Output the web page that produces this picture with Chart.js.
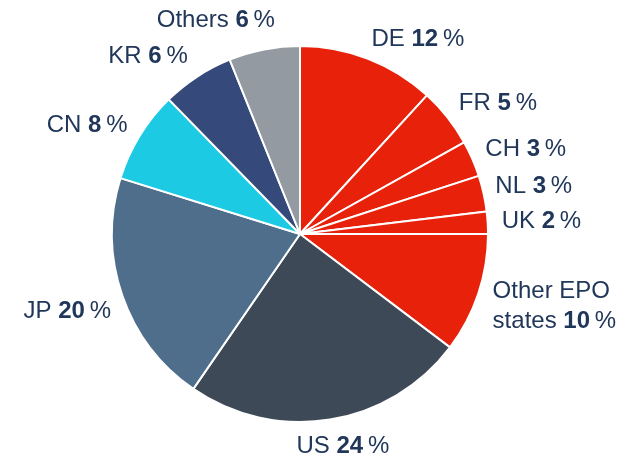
<!DOCTYPE html>
<html lang="en">
  <head>
    <meta charset="UTF-8" />
    <title>Applications by origin</title>
    <style>
      html, body {
        margin: 0;
        padding: 0;
        background: #ffffff;
      }
      .chart-container {
        position: relative;
        width: 639px;
        height: 458px;
      }
    </style>
    <script src="https://cdn.jsdelivr.net/npm/chart.js@4.4.1/dist/chart.umd.min.js"></script>
  </head>
  <body>
    <div class="chart-container">
      <canvas id="pieChart"></canvas>
    </div>

    <script>
      // Countries, clockwise from the top
      const categories = ["DE", "FR", "CH", "NL", "UK", ["Other EPO", "states"], "US", "JP", "CN", "KR", "Others"];
      // Shares (%)
      const shares = [11.8, 5.1, 3.1, 3.1, 1.9, 10.3, 24.3, 20.2, 7.9, 6.2, 6.1];
      // Rounded values as printed in the labels
      const printed = [12, 5, 3, 3, 2, 10, 24, 20, 8, 6, 6];

      const colors = [
        "#e8210b", "#e8210b", "#e8210b", "#e8210b", "#e8210b", "#e8210b",
        "#3d4957", "#4e6e8c", "#1ccbe3", "#354a7a", "#939aa1",
      ];

      // small nudges for label placement [dx, dy]
      const nudges = [[-1, -1], [2, -2], [2, -1], [0, -3], [2, 0], [3, 6], [11, 7], [0, 9], [-2, 0], [-3, -3], [13, -9]];

      const textColor = "#21375a";
      const fontSize = 24;
      const fontFamily = "'Liberation Sans', Arial, sans-serif";

      const labelPlugin = {
        id: "outerLabels",
        afterDraw(chart) {
          const ctx = chart.ctx;
          const meta = chart.getDatasetMeta(0);
          ctx.save();
          ctx.fillStyle = textColor;
          ctx.textBaseline = "middle";
          meta.data.forEach((arc, i) => {
            const p = arc.getProps(["x", "y", "startAngle", "endAngle", "outerRadius"], true);
            const mid = (p.startAngle + p.endAngle) / 2;
            const cx = Math.cos(mid);
            const sy = Math.sin(mid);
            const r = p.outerRadius + 12;
            let ax = p.x + cx * r + nudges[i][0];
            let ay = p.y + sy * r + sy * 8 + nudges[i][1];

            const lines = Array.isArray(categories[i]) ? categories[i] : [categories[i]];
            const lineH = 30;
            const top = ay - ((lines.length - 1) * lineH) / 2;
            const normal = fontSize + "px " + fontFamily;
            const bold = "bold " + fontSize + "px " + fontFamily;

            lines.forEach((line, li) => {
              const last = li === lines.length - 1;
              const parts = last
                ? [[line + " ", normal], [String(printed[i]), bold], ["\u2009%", normal]]
                : [[line, normal]];
              let w = 0;
              parts.forEach(([t, f]) => {
                ctx.font = f;
                w += ctx.measureText(t).width;
              });
              let x;
              if (cx > 0.25) x = ax;
              else if (cx < -0.15) x = ax - w;
              else x = ax - w / 2;
              const y = top + li * lineH;
              ctx.textAlign = "left";
              parts.forEach(([t, f]) => {
                ctx.font = f;
                ctx.fillText(t, x, y);
                x += ctx.measureText(t).width;
              });
            });
          });
          ctx.restore();
        },
      };

      const ctx = document.getElementById("pieChart").getContext("2d");
      new Chart(ctx, {
        type: "pie",
        data: {
          labels: categories,
          datasets: [
            {
              data: shares,
              backgroundColor: colors,
              borderColor: "#ffffff",
              borderWidth: 2,
            },
          ],
        },
        options: {
          responsive: true,
          maintainAspectRatio: false,
          animation: false,
          layout: {
            padding: { left: 111, right: 150, top: 45, bottom: 35 },
          },
          plugins: {
            legend: { display: false },
            tooltip: { enabled: false },
          },
        },
        plugins: [labelPlugin],
      });
    </script>
  </body>
</html>
